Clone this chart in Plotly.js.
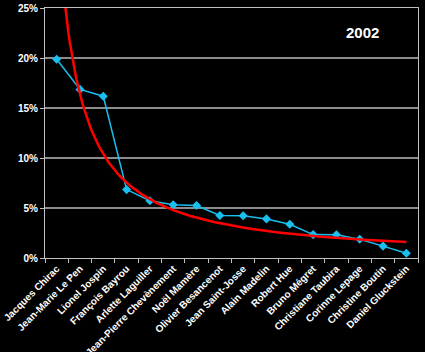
<!DOCTYPE html>
<html><head><meta charset="utf-8">
<script src="https://cdn.plot.ly/plotly-3.0.1.min.js"></script>
<style>html,body{margin:0;padding:0;background:#000;}</style>
</head><body>
<div id="chart" style="width:425px;height:352px;"></div>
<script>
const candidates = ["Jacques Chirac","Jean-Marie Le Pen","Lionel Jospin","François Bayrou","Arlette Laguiller","Jean-Pierre Chevènement","Noël Mamère","Olivier Besancenot","Jean Saint-Josse","Alain Madelin","Robert Hue","Bruno Mégret","Christiane Taubira","Corinne Lepage","Christine Boutin","Daniel Gluckstein"];
const votes = [19.88,16.86,16.18,6.84,5.72,5.33,5.25,4.25,4.23,3.91,3.37,2.34,2.32,1.88,1.19,0.47];
const yearLabel = "2002";

// Power trendline (least squares in log space), derived from the data
const n = votes.length;
let sx=0, sy=0, sxx=0, sxy=0;
for (let i=0;i<n;i++){ const lx=Math.log(i+1), ly=Math.log(votes[i]); sx+=lx; sy+=ly; sxx+=lx*lx; sxy+=lx*ly; }
const b = (n*sxy - sx*sy)/(n*sxx - sx*sx);
const a = Math.exp((sy - b*sx)/n);
const tx=[], ty=[];
for (let k=0;k<=300;k++){ const r = 1 + k*(n-1)/300; tx.push(r-1); ty.push(a*Math.pow(r,b)); }

const traces = [
  {x: tx, y: ty, xaxis:'x2', type:'scatter', mode:'lines', line:{color:'#ff0000', width:2.5}, hoverinfo:'skip'},
  {x: candidates, y: votes, type:'scatter', mode:'lines+markers', line:{color:'#19bfef', width:1.5}, marker:{symbol:'diamond', size:7, color:'#19bfef'}}
];
const font = {family:'"Liberation Sans", Arial, sans-serif', color:'#ffffff', size:10};
const layout = {
  width:425, height:352,
  paper_bgcolor:'#000', plot_bgcolor:'#000',
  margin:{l:45, r:7, t:8, b:94},
  showlegend:false,
  font: font,
  xaxis:{type:'category', range:[-0.5,15.5], tickangle:-45, tickson:'boundaries', ticks:'outside', ticklen:4, tickcolor:'#c0c0c0',
         showgrid:false, showline:true, linecolor:'#c0c0c0', linewidth:1, mirror:true, zeroline:false,
         tickfont:{family:'"Liberation Sans", Arial, sans-serif', color:'#ffffff', size:10, weight:'bold'}, fixedrange:true},
  xaxis2:{overlaying:'x', range:[-0.5,15.5], visible:false, fixedrange:true},
  yaxis:{range:[0,25], dtick:5, ticksuffix:'%', showgrid:true, gridcolor:'#8c8c8c', gridwidth:1.5, ticks:'outside', ticklen:4, tickcolor:'#c0c0c0',
         showline:true, linecolor:'#c0c0c0', linewidth:1, mirror:true, zeroline:false,
         tickfont:{family:'"Liberation Sans", Arial, sans-serif', color:'#ffffff', size:10, weight:'bold'}, fixedrange:true},
  annotations:[{text:yearLabel, xref:'paper', yref:'paper', x:0.85, y:0.9, xanchor:'center', yanchor:'middle', showarrow:false,
                font:{family:'"Liberation Sans", Arial, sans-serif', color:'#ffffff', size:15, weight:'bold'}}]
};
Plotly.newPlot('chart', traces, layout, {displayModeBar:false, staticPlot:true});
</script>
</body></html>
